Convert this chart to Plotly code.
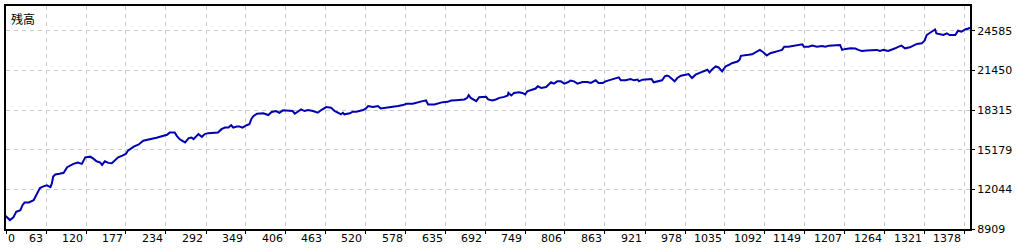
import plotly.graph_objects as go

# Trade number (x) and account balance (y)
trade_idx = [5, 11, 16, 20, 26, 29, 32, 38, 45, 49, 52, 54, 59, 64, 69, 71, 73, 76, 82, 88,
             93, 97, 102, 108, 114, 119, 126, 131, 135, 140, 143, 147, 152, 157, 162, 166, 172, 177, 180, 183,
             189, 195, 200, 202, 221, 236, 240, 247, 250, 254, 258, 262, 267, 271, 274, 278, 281, 286, 290, 295,
             302, 309, 314, 319, 324, 328, 331, 336, 340, 344, 350, 354, 357, 360, 365, 374, 381, 386, 392, 397,
             402, 409, 416, 419, 424, 428, 433, 438, 445, 452, 457, 464, 471, 476, 481, 485, 488, 490, 498, 502,
             507, 512, 517, 521, 524, 531, 538, 542, 548, 555, 560, 567, 574, 579, 588, 595, 602, 607, 610, 619,
             624, 631, 638, 643, 650, 657, 662, 666, 668, 671, 676, 679, 683, 693, 696, 702, 707, 712, 719, 724,
             725, 729, 733, 740, 745, 749, 752, 759, 764, 767, 772, 779, 783, 786, 790, 795, 800, 805, 810, 814,
             819, 824, 831, 838, 843, 848, 850, 854, 860, 864, 872, 879, 883, 886, 893, 900, 905, 910, 912, 917,
             924, 930, 933, 938, 945, 949, 952, 955, 960, 963, 967, 972, 979, 983, 988, 993, 998, 1005, 1010, 1013,
             1017, 1022, 1026, 1031, 1036, 1041, 1045, 1053, 1056, 1058, 1065, 1069, 1074, 1079, 1085, 1090, 1095, 1100, 1107, 1112,
             1117, 1120, 1126, 1134, 1141, 1146, 1148, 1155, 1160, 1167, 1174, 1179, 1184, 1193, 1200, 1203, 1208, 1215, 1222, 1226,
             1231, 1238, 1246, 1253, 1257, 1262, 1269, 1274, 1279, 1284, 1288, 1293, 1300, 1305, 1310, 1317, 1321, 1324, 1329, 1334,
             1336, 1338, 1343, 1348, 1353, 1357, 1365, 1369, 1374, 1379, 1384, 1386]
balance = [9930, 9615, 9827, 10266, 10399, 10791, 11003, 11003, 11183, 11575, 11833, 12147, 12280, 12359, 12225, 12492, 13064, 13221, 13276, 13354,
           13793, 13926, 14059, 14161, 14059, 14577, 14631, 14451, 14263, 14185, 13981, 14263, 14138, 14106, 14373, 14577, 14710, 14843, 15102, 15235,
           15439, 15572, 15752, 15885, 16121, 16356, 16536, 16536, 16277, 16019, 15885, 15752, 16097, 16144, 16019, 16277, 16411, 16199, 16411, 16489,
           16536, 16536, 16802, 16928, 16928, 17116, 16928, 17006, 17006, 16928, 17116, 17194, 17633, 17845, 18025, 18056, 17923, 18158, 18237, 18103,
           18292, 18237, 18237, 18025, 18237, 18370, 18237, 18315, 18237, 18103, 18315, 18550, 18495, 18237, 18103, 17978, 18103, 17978, 18056, 18182,
           18182, 18237, 18315, 18448, 18629, 18550, 18629, 18448, 18495, 18495, 18550, 18629, 18707, 18809, 18809, 18942, 19020, 19075, 18762, 18762,
           18840, 18942, 18966, 19075, 19099, 19154, 19154, 19279, 19491, 19279, 19154, 19020, 19334, 19358, 19154, 19075, 19154, 19279, 19358, 19467,
           19671, 19467, 19671, 19726, 19671, 19546, 19804, 19938, 20016, 20196, 20063, 20141, 20329, 20510, 20408, 20588, 20588, 20408, 20510, 20643,
           20588, 20408, 20533, 20533, 20455, 20588, 20666, 20455, 20455, 20588, 20721, 20800, 20901, 20666, 20666, 20768, 20666, 20721, 20588, 20721,
           20768, 20768, 20510, 20588, 20666, 20980, 21035, 20980, 20721, 20588, 20847, 21035, 21113, 21160, 20847, 21113, 21238, 21372, 21505, 21293,
           21552, 21764, 21685, 21372, 21764, 21897, 22022, 22155, 22289, 22602, 22626, 22681, 22728, 22884, 23072, 22884, 22626, 22806, 22884, 22994,
           23072, 23331, 23331, 23409, 23464, 23511, 23331, 23331, 23409, 23331, 23386, 23331, 23409, 23433, 23464, 23072, 23151, 23198, 23174, 23072,
           22994, 23018, 23072, 23072, 22994, 23072, 22994, 23072, 23198, 23331, 23409, 23198, 23276, 23409, 23543, 23590, 23801, 24248, 24428, 24562,
           24687, 24373, 24295, 24248, 24373, 24248, 24248, 24585, 24507, 24687, 24765, 24844]

x_tick_labels = ["0", "63", "120", "177", "234", "292", "349", "406", "463", "520", "578", "635", "692",
                 "749", "806", "863", "921", "978", "1035", "1092", "1149", "1207", "1264", "1321", "1378"]
x_tick_vals = [5.4] + [float(t) for t in x_tick_labels[1:]]
y_tick_vals = [8909, 12044, 15179, 18315, 21450, 24585]
title_text = "残高"

x_range = [5.4, 1386.1]
y_range = [8909, 26544]

FONT = "DejaVu Sans"
grid_col = "#c8c8c8"

fig = go.Figure()
fig.add_trace(go.Scatter(
    x=trade_idx, y=balance, mode="lines",
    line=dict(color="#0000b0", width=2),
    hoverinfo="skip", showlegend=False,
))

annotations = [dict(
    text=title_text, xref="paper", yref="paper", x=0, y=1,
    xanchor="left", yanchor="top", xshift=3, yshift=-2, showarrow=False,
    font=dict(family="Noto Sans CJK JP", size=12, color="black"),
)]
for i, (v, t) in enumerate(zip(x_tick_vals, x_tick_labels)):
    annotations.append(dict(
        text=t, xref="x", yref="paper", x=v, y=0,
        xanchor="left" if i == 0 else "right", yanchor="top",
        xshift=0 if i == 0 else -1, yshift=-1, showarrow=False,
        font=dict(family=FONT, size=11, color="black"),
    ))

fig.update_layout(
    width=1025, height=250,
    margin=dict(l=4, r=55, t=4, b=21),
    paper_bgcolor="white", plot_bgcolor="white",
    annotations=annotations,
    xaxis=dict(
        range=x_range, tickvals=x_tick_vals, showticklabels=False,
        ticks="outside", ticklen=3, tickcolor="black", tickwidth=1,
        showgrid=True, gridcolor=grid_col, griddash="4px,4px", gridwidth=1,
        showline=True, linecolor="black", linewidth=2, mirror=True,
        zeroline=False, fixedrange=True,
    ),
    yaxis=dict(
        range=y_range, tickvals=y_tick_vals, tickformat="d", side="right",
        ticks="outside", ticklen=3, tickcolor="black", tickwidth=1,
        tickfont=dict(family=FONT, size=11, color="black"),
        showgrid=True, gridcolor=grid_col, griddash="4px,4px", gridwidth=1,
        showline=True, linecolor="black", linewidth=2, mirror=True,
        zeroline=False, fixedrange=True,
    ),
)

fig.write_html("out.html")
